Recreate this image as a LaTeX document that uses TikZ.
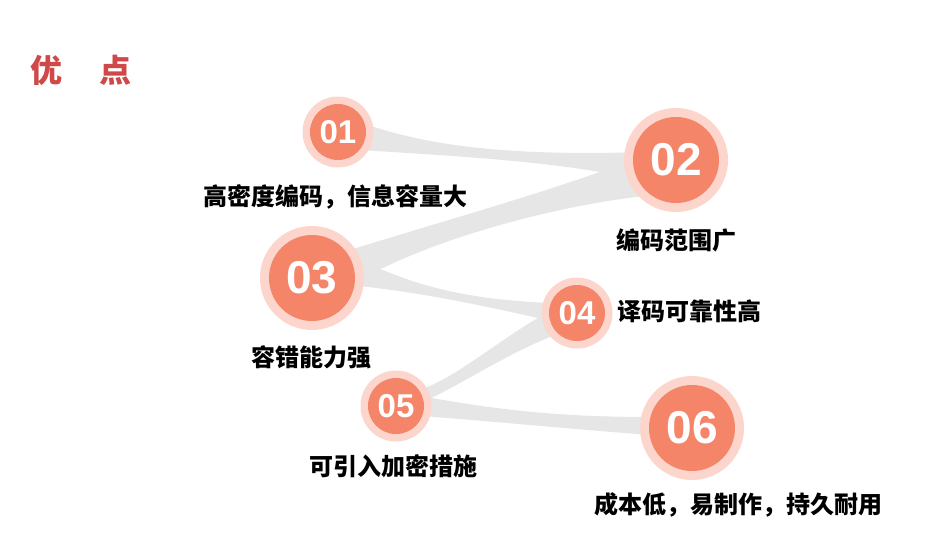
\documentclass[tikz,border=0pt]{standalone}
\usepackage{fontspec}
\setmainfont{Liberation Sans}
\newfontfamily\cjk{Noto Sans CJK SC}
\definecolor{ribbon}{RGB}{230,230,230}
\definecolor{ring}{RGB}{252,214,204}
\definecolor{core}{RGB}{245,133,105}
\definecolor{titlered}{RGB}{208,72,72}
\begin{document}
\begin{tikzpicture}[x=1pt,y=-1pt,
  bigring/.style={circle,fill=ring,minimum size=104pt,inner sep=0pt},
  bigcore/.style={circle,fill=core,minimum size=86pt,inner sep=0pt,text=white,font=\bfseries\fontsize{46}{46}\selectfont},
  smallring/.style={circle,fill=ring,minimum size=71pt,inner sep=0pt},
  smallcore/.style={circle,fill=core,minimum size=56pt,inner sep=0pt,text=white,font=\bfseries\fontsize{33}{33}\selectfont},
  lbl/.style={inner sep=0pt,text=black,font=\cjk\bfseries\fontsize{24}{24}\selectfont},
  band/.style={fill=ribbon}]
\useasboundingbox (0,0) rectangle (931,555);
\fill[white] (0,0) rectangle (931,555);

% title
\node[inner sep=0pt,text=titlered,font=\cjk\bfseries\fontsize{32}{32}\selectfont] (title) at (81,70) {优\hspace{38pt}点};

% ribbons
\fill[band] (360,122) .. controls (430,148) and (520,156) .. (645,152) -- (645,172) -- (600,172) .. controls (530,160) and (440,155) .. (360,150) -- cycle;
\fill[band] (600,172) -- (645,166) -- (645,196) .. controls (560,205) and (450,235) .. (383,268) -- (355,278) -- (350,250) .. controls (420,228) and (520,200) .. (600,172) -- cycle;
\fill[band] (350,262) -- (383,270) .. controls (430,290) and (480,300) .. (550,303) -- (560,303) -- (560,320) -- (538,318) .. controls (480,305) and (420,292) .. (350,285) -- cycle;
\fill[band] (538,318) -- (565,318) -- (565,340) -- (550,337) .. controls (505,355) and (460,385) .. (427,400) -- (410,405) -- (410,392) -- (430,386) .. controls (465,370) and (500,340) .. (538,318) -- cycle;
\fill[band] (410,398) -- (432,398) .. controls (500,410) and (560,417) .. (650,417) -- (650,435) .. controls (560,428) and (500,422) .. (410,415) -- cycle;

% circles
\node[smallring] (r1) at (338,132) {};
\node[smallcore] (c1) at (338,132) {01};
\node[bigring] (r2) at (676,160) {};
\node[bigcore] (c2) at (676,160) {02};
\node[bigring] (r3) at (312,278) {};
\node[bigcore] (c3) at (312,278) {03};
\node[smallring] (r4) at (577,313) {};
\node[smallcore] (c4) at (577,313) {04};
\node[smallring] (r5) at (396,406) {};
\node[smallcore] (c5) at (396,406) {05};
\node[bigring] (r6) at (692,428) {};
\node[bigcore] (c6) at (692,428) {06};

% labels
\node[lbl] (l1) at (335,197) {高密度编码，信息容量大};
\node[lbl] (l2) at (676,240) {编码范围广};
\node[lbl] (l3) at (311,357) {容错能力强};
\node[lbl,anchor=west] (l4) at (617,311) {译码可靠性高};
\node[lbl] (l5) at (393,466) {可引入加密措施};
\node[lbl] (l6) at (738,505) {成本低，易制作，持久耐用};
\end{tikzpicture}
\end{document}
